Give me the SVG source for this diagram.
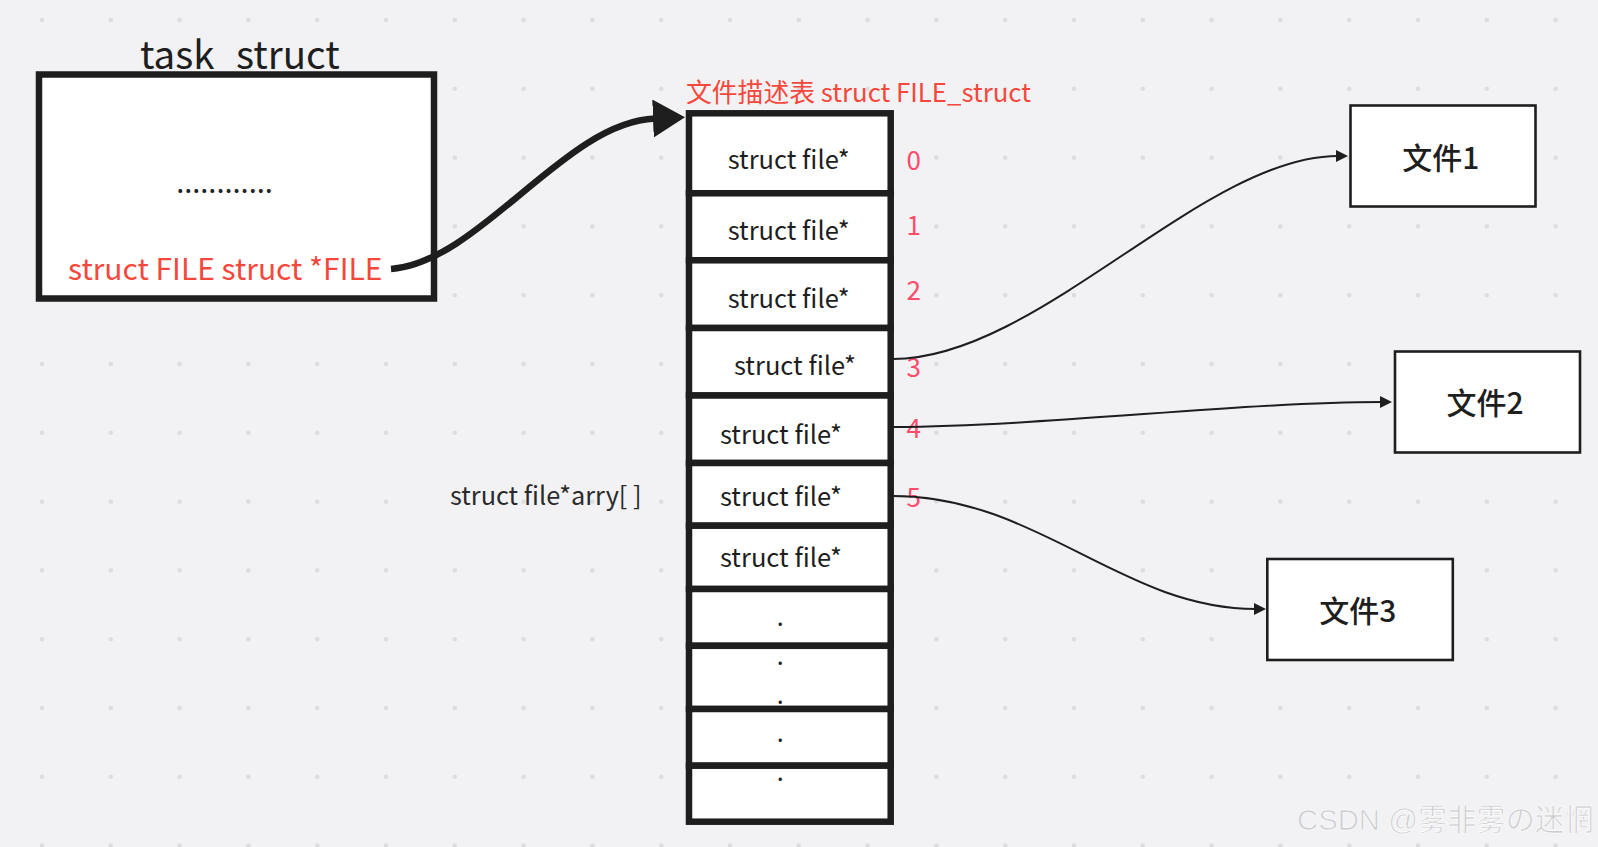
<svg xmlns="http://www.w3.org/2000/svg" width="1598" height="847" viewBox="0 0 1598 847">
<style>
  text { font-family: "Noto Sans CJK SC", "Noto Sans", sans-serif; }
  .cell { fill: #ffffff; stroke: #1e1e1e; stroke-width: 6.5; }
  .box { fill: #ffffff; stroke: #1e1e1e; stroke-width: 2.6; }
  .lbl { font-size: 25.5px; fill: #1e1e1e; }
  .num { font-size: 26px; fill: #fb4c6c; }
  .red { fill: #f5483c; }
  .file { font-size: 30px; font-weight: 500; fill: #1e1e1e; text-anchor: middle; }
  .dot { font-size: 25px; fill: #1e1e1e; text-anchor: middle; }
  .conn { fill: none; stroke: #1e1e1e; stroke-width: 2; }
</style>
<defs>
  <pattern id="grid" x="42" y="20" width="68.8" height="68.8" patternUnits="userSpaceOnUse">
    <circle cx="0" cy="0" r="2.3" fill="#dcdce0"/>
    <circle cx="68.8" cy="0" r="2.3" fill="#dcdce0"/>
    <circle cx="0" cy="68.8" r="2.3" fill="#dcdce0"/>
    <circle cx="68.8" cy="68.8" r="2.3" fill="#dcdce0"/>
  </pattern>
  <marker id="bigArrow" markerUnits="userSpaceOnUse" markerWidth="34" markerHeight="40" refX="2" refY="19" orient="auto">
    <path d="M0,0 L32,19 L0,38 Z" fill="#1e1e1e"/>
  </marker>
  <marker id="arrow" markerUnits="userSpaceOnUse" markerWidth="14" markerHeight="14" refX="2" refY="6" orient="auto">
    <path d="M0,0 L12,6 L0,12 Z" fill="#1e1e1e"/>
  </marker>
</defs>
<rect x="0" y="0" width="1598" height="847" fill="#f2f2f4"/>
<rect x="0" y="0" width="1598" height="847" fill="url(#grid)"/>

<g id="task_struct">
  <text x="140" y="69" style="font-size:38.5px;fill:#1e1e1e">task_struct</text>
  <rect x="39" y="74.5" width="395" height="224" class="cell"/>
  <text x="224.5" y="193" style="font-size:29px;fill:#1e1e1e;text-anchor:middle">............</text>
  <text x="68" y="280" class="red" style="font-size:30px">struct FILE struct *FILE</text>
</g>

<g id="fd_table">
  <text x="686" y="102" class="red" style="font-size:25.8px">文件描述表 struct FILE_struct</text>
  <rect x="689" y="113.3" width="201.7" height="80" class="cell"/>
  <rect x="689" y="193.3" width="201.7" height="67" class="cell"/>
  <rect x="689" y="260.3" width="201.7" height="67.7" class="cell"/>
  <rect x="689" y="328" width="201.7" height="67.5" class="cell"/>
  <rect x="689" y="395.5" width="201.7" height="67.5" class="cell"/>
  <rect x="689" y="463" width="201.7" height="62.7" class="cell"/>
  <rect x="689" y="525.7" width="201.7" height="63.3" class="cell"/>
  <rect x="689" y="589" width="201.7" height="56.8" class="cell"/>
  <rect x="689" y="645.8" width="201.7" height="63.2" class="cell"/>
  <rect x="689" y="709" width="201.7" height="56.7" class="cell"/>
  <rect x="689" y="765.7" width="201.7" height="56" class="cell"/>
  <text x="727.7" y="169.3" class="lbl">struct file*</text>
  <text x="727.7" y="240" class="lbl">struct file*</text>
  <text x="727.7" y="308.3" class="lbl">struct file*</text>
  <text x="734" y="375" class="lbl">struct file*</text>
  <text x="720" y="444.3" class="lbl">struct file*</text>
  <text x="720" y="506" class="lbl">struct file*</text>
  <text x="720" y="566.7" class="lbl">struct file*</text>
  <text x="780.3" y="626" class="dot">.</text>
  <text x="780.3" y="665" class="dot">.</text>
  <text x="780.3" y="703.7" class="dot">.</text>
  <text x="780.3" y="742" class="dot">.</text>
  <text x="780.3" y="781" class="dot">.</text>
  <text x="906.5" y="170" class="num">0</text>
  <text x="906.5" y="235" class="num">1</text>
  <text x="906.5" y="300" class="num">2</text>
  <text x="906.5" y="376.7" class="num">3</text>
  <text x="906.5" y="438.3" class="num">4</text>
  <text x="906.5" y="506.7" class="num">5</text>
</g>

<g id="arr_label">
  <text x="450" y="505" class="lbl" style="fill:#2a2a2a;font-size:25.3px">struct file*arry[ ]</text>
</g>

<g id="file1">
  <rect x="1350.5" y="105.5" width="185" height="101" class="box"/>
  <text x="1440.7" y="169" class="file">文件1</text>
</g>
<g id="file2">
  <rect x="1395" y="351.5" width="185" height="101" class="box"/>
  <text x="1485" y="414.3" class="file">文件2</text>
</g>
<g id="file3">
  <rect x="1267.3" y="559" width="185.5" height="101" class="box"/>
  <text x="1357.7" y="621.7" class="file">文件3</text>
</g>

<g id="connectors">
  <path d="M391,269 C480,262 565,122 655,118.5" fill="none" stroke="#1e1e1e" stroke-width="6.5" marker-end="url(#bigArrow)"/>
  <path d="M893,359 C1038,359 1203,156 1338,156" class="conn" marker-end="url(#arrow)"/>
  <path d="M893,427 C1050,426 1240,402 1382,402" class="conn" marker-end="url(#arrow)"/>
  <path d="M893,496 C1038,496 1122,609 1256,609" class="conn" marker-end="url(#arrow)"/>
</g>

<text x="1297" y="830" style="font-family:'Liberation Sans','Noto Sans CJK SC',sans-serif;font-size:29.3px;fill:#cdcdd0;stroke:#ffffff;stroke-width:0.6">CSDN @雾非雾の迷惘</text>
</svg>
